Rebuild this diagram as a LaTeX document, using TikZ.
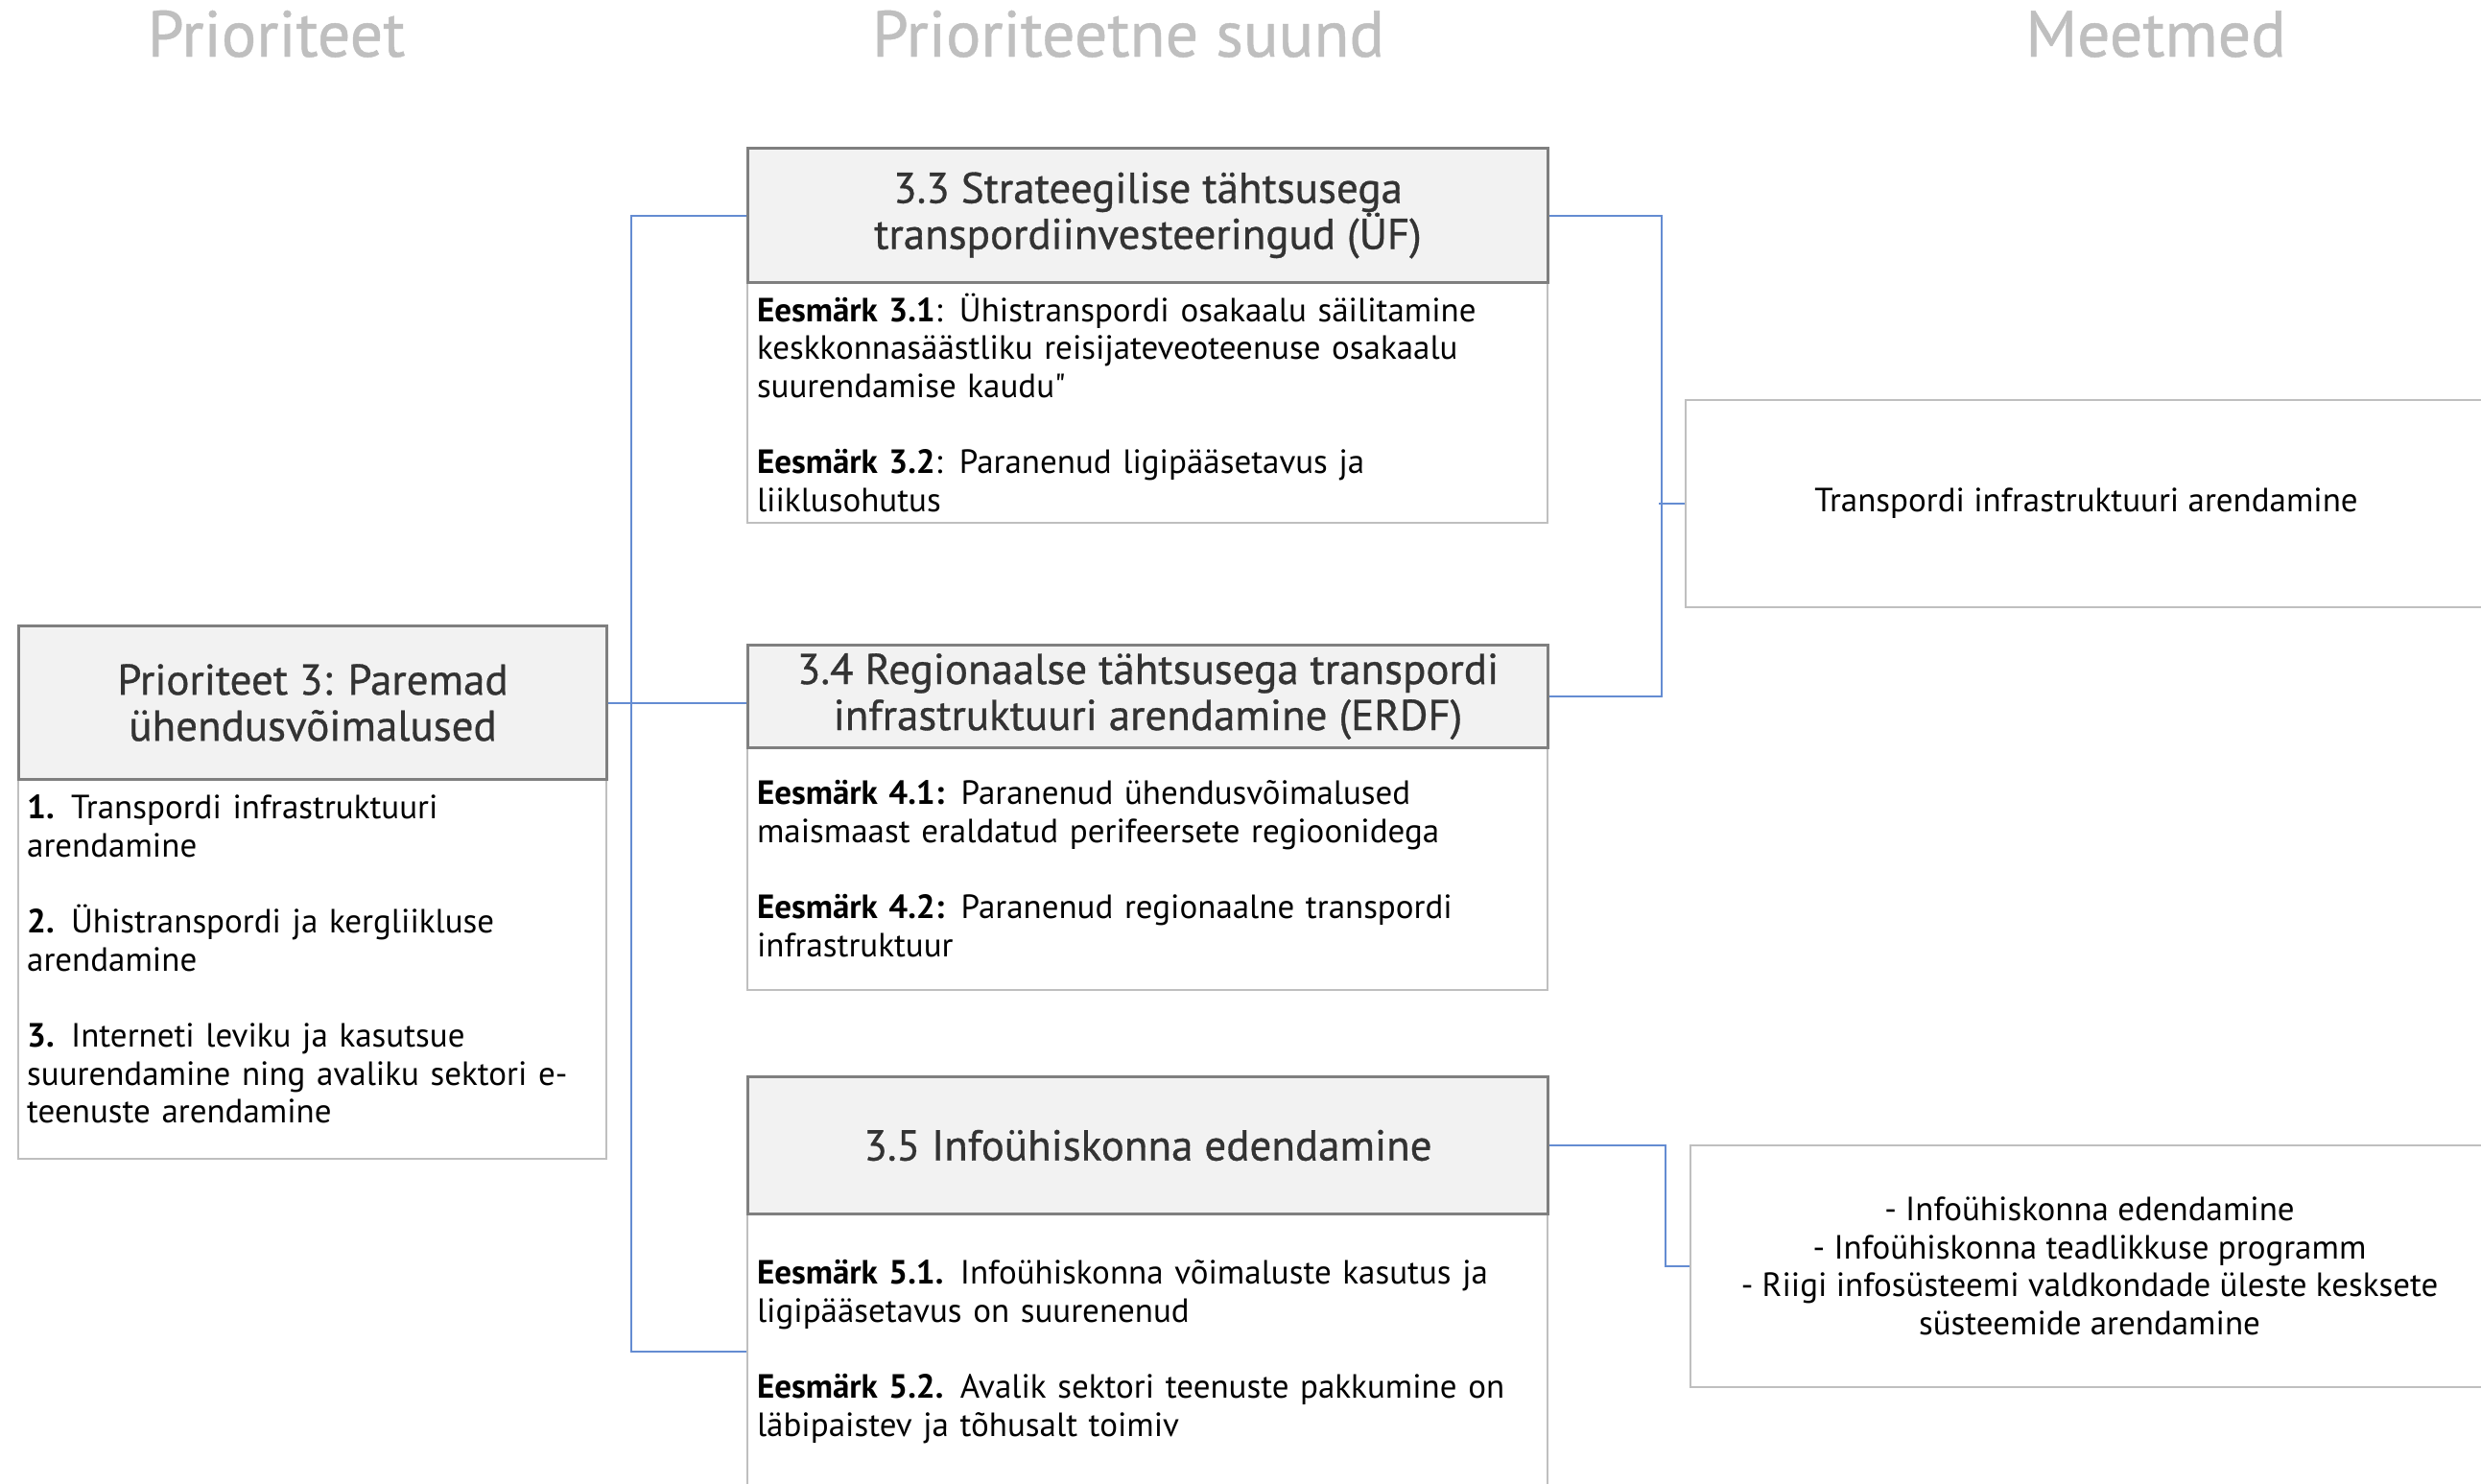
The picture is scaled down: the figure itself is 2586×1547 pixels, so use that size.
\documentclass[tikz,border=0pt]{standalone}
\usepackage{fontspec}
\setmainfont{PT Sans}[Ligatures=TeXOff]
\newfontfamily\hdrfont{PT Sans}[FakeBold=0.7]
\definecolor{hdrfill}{HTML}{F2F2F2}
\definecolor{hdrline}{HTML}{7F7F7F}
\definecolor{bodyline}{HTML}{BFBFBF}
\definecolor{connblue}{RGB}{100,140,210}
\definecolor{titlegray}{HTML}{BFBFBF}
\definecolor{hdrtext}{HTML}{333333}
\begin{document}
\begin{tikzpicture}[x=1pt,y=-1pt,
  hdr/.style={draw=hdrline, line width=3pt, fill=hdrfill, anchor=north west, inner sep=0pt,
    align=center, text=hdrtext, font=\hdrfont\fontsize{45pt}{48pt}\selectfont},
  bodybox/.style={draw=bodyline, line width=2pt, fill=white, anchor=north west, inner xsep=10pt, inner ysep=0pt,
    align=left, font=\fontsize{35pt}{39.6pt}\selectfont},
  bodytext/.style={inner xsep=10pt, inner ysep=0pt, align=left, font=\fontsize{35pt}{39.6pt}\selectfont},
  sidebox/.style={draw=bodyline, line width=2pt, fill=white, anchor=north west, inner sep=0pt,
    align=center, font=\fontsize{35pt}{39.6pt}\selectfont},
  coltitle/.style={anchor=base, text=titlegray, font=\hdrfont\fontsize{68pt}{70pt}\selectfont},
  conn/.style={draw=connblue, line width=2pt}
]
\useasboundingbox (0,0) rectangle (2586,1547);
\clip (0,0) rectangle (2586,1547);
\fill[white] (0,0) rectangle (2586,1547);

% column titles
\node[coltitle] (t1) at (288,59) {Prioriteet};
\node[coltitle] (t2) at (1176,59) {Prioriteetne suund};
\node[coltitle] (t3) at (2247,59) {Meetmed};

% priority box
\node[bodybox, minimum width=613pt, minimum height=396pt] (prb) at (18,811) {};
\node[bodytext, anchor=west, text width=593pt] (prbt) at ([yshift=10pt]prb.west)
 {\textbf{1.} Transpordi infrastruktuuri\\arendamine\\[39.6pt]
  \textbf{2.} Ühistranspordi ja kergliikluse\\arendamine\\[39.6pt]
  \textbf{3.} Interneti leviku ja kasutsue\\suurendamine ning avaliku sektori e-\\teenuste arendamine};
\node[hdr, minimum width=613pt, minimum height=160pt] (prh) at (18,651)
 {Prioriteet 3: Paremad\\ühendusvõimalused};

% 3.3
\node[bodybox, text width=814pt, minimum height=251pt] (s33b) at (778,293)
 {\textbf{Eesmärk 3.1}: Ühistranspordi osakaalu säilitamine\\keskkonnasäästliku reisijateveoteenuse osakaalu\\suurendamise kaudu"\\[39.6pt]
  \textbf{Eesmärk 3.2}: Paranenud ligipääsetavus ja\\liiklusohutus};
\node[hdr, minimum width=834pt, minimum height=140pt] (s33h) at (778,153)
 {3.3 Strateegilise tähtsusega\\transpordiinvesteeringud (ÜF)};

% 3.4
\node[bodybox, text width=814pt, minimum height=253pt] (s34b) at (778,778)
 {\textbf{Eesmärk 4.1:} Paranenud ühendusvõimalused\\maismaast eraldatud perifeersete regioonidega\\[39.6pt]
  \textbf{Eesmärk 4.2:} Paranenud regionaalne transpordi\\infrastruktuur};
\node[hdr, minimum width=834pt, minimum height=107pt] (s34h) at (778,671)
 {3.4 Regionaalse tähtsusega transpordi\\infrastruktuuri arendamine (ERDF)};

% 3.5
\node[bodybox, text width=814pt, minimum height=288pt] (s35b) at (778,1264)
 {\textbf{Eesmärk 5.1.} Infoühiskonna võimaluste kasutus ja\\ligipääsetavus on suurenenud\\[39.6pt]
  \textbf{Eesmärk 5.2.} Avalik sektori teenuste pakkumine on\\läbipaistev ja tõhusalt toimiv};
\node[hdr, minimum width=834pt, minimum height=143pt] (s35h) at (778,1121)
 {3.5 Infoühiskonna edendamine};

% measures
\node[sidebox, minimum width=835pt, minimum height=216pt] (trm) at (1756,416)
 {Transpordi infrastruktuuri arendamine};
\node[sidebox, minimum width=832pt, minimum height=252pt] (inf) at (1761,1193)
 {- Infoühiskonna edendamine\\- Infoühiskonna teadlikkuse programm\\- Riigi infosüsteemi valdkondade üleste kesksete\\süsteemide arendamine};

% connectors
\draw[conn] (prh.east) -- (prh.east -| s34h.west);
\draw[conn] (s33h.west) -- ++(-120,0) |- (s35b.west);
\draw[conn] (s33h.east) -- ++(117,0) |- (s34h.east);
\draw[conn] (trm.west) -- ++(-27,0);
\draw[conn] (s35h.east) -- ++(121,0) |- (inf.west);
\end{tikzpicture}
\end{document}
